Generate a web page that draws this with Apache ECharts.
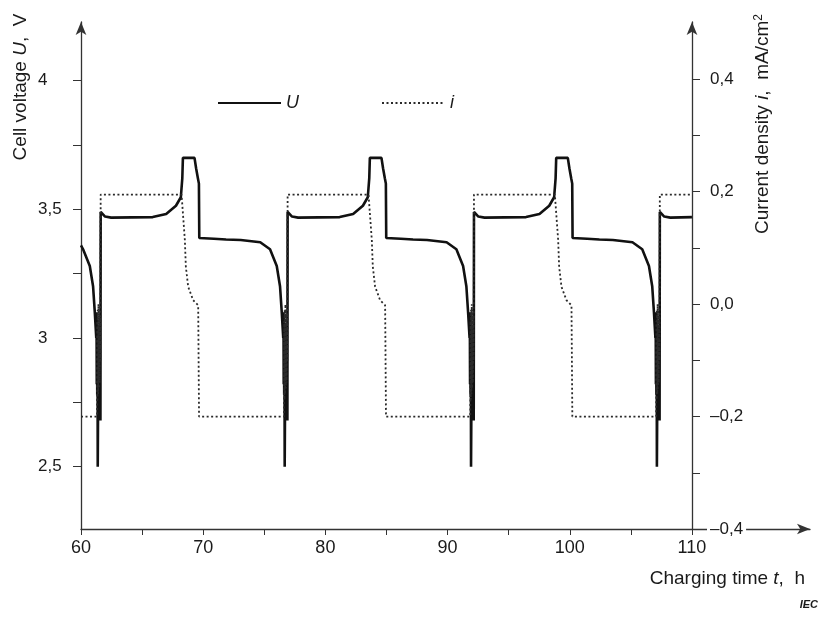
<!DOCTYPE html>
<html>
<head>
<meta charset="utf-8">
<script src="https://cdn.jsdelivr.net/npm/echarts@6/dist/echarts.min.js"></script>
<style>
  html, body { margin: 0; padding: 0; background: #fff; }
  #chart { width: 820px; height: 617px; }
</style>
</head>
<body>
<div id="chart"></div>
<script>
// time (h) and cell voltage U (V)
var uTime = [
    60.0, 60.17, 60.72, 60.99, 61.13, 61.25, 61.27, 61.29, 61.31, 61.33, 61.35, 61.37, 61.40, 61.43, 61.46, 61.49, 61.52, 61.55, 61.59, 61.61,
    61.97, 62.47, 65.87, 66.97, 67.77, 68.17, 68.29, 68.34, 69.29, 69.42, 69.57, 69.65, 69.68, 70.87, 71.87,
    73.07, 74.67, 75.47, 76.02, 76.29, 76.43, 76.55, 76.57, 76.59, 76.61, 76.63, 76.65, 76.67, 76.70, 76.73, 76.76, 76.79, 76.82, 76.85, 76.89, 76.91,
    77.27, 77.77, 81.17, 82.27, 83.07, 83.47, 83.59, 83.64, 84.59, 84.72, 84.87, 84.95, 84.98, 86.17, 87.17,
    88.32, 89.92, 90.72, 91.27, 91.54, 91.68, 91.80, 91.82, 91.84, 91.86, 91.88, 91.90, 91.92, 91.95, 91.98, 92.01, 92.04, 92.07, 92.10, 92.14, 92.16,
    92.52, 93.02, 96.42, 97.52, 98.32, 98.72, 98.84, 98.89, 99.84, 99.97, 100.12, 100.20, 100.23, 101.42, 102.42,
    103.53, 105.13, 105.93, 106.48, 106.75, 106.89, 107.01, 107.03, 107.05, 107.07, 107.09, 107.11, 107.13, 107.16, 107.19, 107.22, 107.25, 107.28, 107.31, 107.35, 107.37,
    107.73, 108.23, 110.0
];
var voltage = [
    3.36, 3.345, 3.28, 3.20, 3.10, 3.00, 3.10, 2.82, 3.08, 2.78, 3.05, 2.50, 2.75, 3.05, 2.72, 3.02, 2.70, 2.95, 2.68, 3.49,
    3.472, 3.468, 3.47, 3.482, 3.514, 3.547, 3.62, 3.70, 3.70, 3.66, 3.62, 3.60, 3.389, 3.386, 3.383,
    3.381, 3.372, 3.345, 3.28, 3.20, 3.10, 3.00, 3.10, 2.82, 3.08, 2.78, 3.05, 2.50, 2.75, 3.05, 2.72, 3.02, 2.70, 2.95, 2.68, 3.49,
    3.472, 3.468, 3.47, 3.482, 3.514, 3.547, 3.62, 3.70, 3.70, 3.66, 3.62, 3.60, 3.389, 3.386, 3.383,
    3.381, 3.372, 3.345, 3.28, 3.20, 3.10, 3.00, 3.10, 2.82, 3.08, 2.78, 3.05, 2.50, 2.75, 3.05, 2.72, 3.02, 2.70, 2.95, 2.68, 3.49,
    3.472, 3.468, 3.47, 3.482, 3.514, 3.547, 3.62, 3.70, 3.70, 3.66, 3.62, 3.60, 3.389, 3.386, 3.383,
    3.381, 3.372, 3.345, 3.28, 3.20, 3.10, 3.00, 3.10, 2.82, 3.08, 2.78, 3.05, 2.50, 2.75, 3.05, 2.72, 3.02, 2.70, 2.95, 2.68, 3.49,
    3.472, 3.468, 3.47
];

// time (h) and current density i (mA/cm2)
var iTime = [
    60.0, 61.31, 61.33, 61.35, 61.37, 61.40, 61.43, 61.46, 61.49, 61.52, 61.56, 61.59, 61.61,
    68.23, 68.36, 68.50, 68.58, 68.77, 69.18, 69.59, 69.66,
    76.61, 76.63, 76.65, 76.67, 76.70, 76.73, 76.76, 76.79, 76.82, 76.86, 76.89, 76.91,
    83.53, 83.66, 83.80, 83.88, 84.07, 84.48, 84.89, 84.96,
    91.86, 91.88, 91.90, 91.92, 91.95, 91.98, 92.01, 92.04, 92.07, 92.11, 92.14, 92.16,
    98.78, 98.91, 99.05, 99.13, 99.32, 99.73, 100.14, 100.21,
    107.07, 107.09, 107.11, 107.13, 107.16, 107.19, 107.22, 107.25, 107.28, 107.32, 107.35, 107.37,
    110.0
];
var current = [
    -0.2, -0.2, -0.03, -0.17, -0.01, -0.16, 0.0, -0.15, -0.01, -0.14, -0.02, -0.1, 0.195,
    0.195, 0.156, 0.114, 0.067, 0.031, 0.007, -0.002, -0.2,
    -0.2, -0.03, -0.17, -0.01, -0.16, 0.0, -0.15, -0.01, -0.14, -0.02, -0.1, 0.195,
    0.195, 0.156, 0.114, 0.067, 0.031, 0.007, -0.002, -0.2,
    -0.2, -0.03, -0.17, -0.01, -0.16, 0.0, -0.15, -0.01, -0.14, -0.02, -0.1, 0.195,
    0.195, 0.156, 0.114, 0.067, 0.031, 0.007, -0.002, -0.2,
    -0.2, -0.03, -0.17, -0.01, -0.16, 0.0, -0.15, -0.01, -0.14, -0.02, -0.1, 0.195,
    0.195
];

// ticks
var xTicks = [60, 65, 70, 75, 80, 85, 90, 95, 100, 105, 110];
var xLabels = [60, 70, 80, 90, 100, 110];
var uTicks = [2.5, 2.75, 3, 3.25, 3.5, 3.75, 4];
var uLabels = [2.5, 3, 3.5, 4];
var iTicks = [-0.4, -0.3, -0.2, -0.1, 0, 0.1, 0.2, 0.3, 0.4];
var iLabels = [-0.4, -0.2, 0, 0.2, 0.4];

function zip(a, b) {
    var out = [];
    for (var k = 0; k < a.length; k++) out.push([a[k], b[k]]);
    return out;
}

var axisColor = '#333';
var textColor = '#1a1a1a';
var font = "'Liberation Sans', Arial, sans-serif";

var chart = echarts.init(document.getElementById('chart'));
var option = {
    animation: false,
    backgroundColor: '#fff',
    grid: { left: 81, right: 10, top: 22, bottom: 88 },
    legend: {
        left: 212,
        top: 89,
        itemWidth: 63,
        itemHeight: 14,
        itemGap: 82,
        data: ['U', 'i'],
        itemStyle: { opacity: 0 },
        textStyle: { fontFamily: font, fontStyle: 'italic', fontSize: 18, color: textColor }
    },
    xAxis: {
        type: 'value',
        min: 60,
        max: 119.66,
        axisLine: { show: true, onZero: false, lineStyle: { color: axisColor, width: 1.3 }, symbol: ['none', 'arrow'], symbolSize: [8, 13] },
        axisTick: { show: true, customValues: xTicks, length: 6, lineStyle: { color: axisColor } },
        axisLabel: { customValues: xLabels, margin: 10, fontFamily: font, fontSize: 18, color: textColor },
        splitLine: { show: false }
    },
    yAxis: [
        {
            type: 'value',
            position: 'left',
            min: 2.258,
            max: 4.228,
            axisLine: { show: true, onZero: false, lineStyle: { color: axisColor, width: 1.3 }, symbol: ['none', 'arrow'], symbolSize: [8, 13] },
            axisTick: { show: true, customValues: uTicks, length: 8, lineStyle: { color: axisColor } },
            axisLabel: {
                customValues: uLabels, margin: 43, align: 'left', fontFamily: font, fontSize: 17, color: textColor,
                formatter: function (v) {
                    return Number.isInteger(v) ? String(v) : v.toFixed(1).replace('.', ',');
                }
            },
            splitLine: { show: false }
        },
        {
            type: 'value',
            position: 'right',
            offset: -118,
            z: 10,
            min: -0.4,
            max: 0.502,
            axisLine: { show: true, onZero: false, lineStyle: { color: axisColor, width: 1.3 }, symbol: ['none', 'arrow'], symbolSize: [8, 13] },
            axisTick: { show: true, customValues: iTicks, length: 8, lineStyle: { color: axisColor } },
            axisLabel: {
                customValues: iLabels, margin: 15, fontFamily: font, fontSize: 17, color: textColor,
                backgroundColor: '#fff', padding: [0, 3],
                formatter: function (v) {
                    return v.toFixed(1).replace('.', ',').replace('-', '\u2013');
                }
            },
            splitLine: { show: false }
        }
    ],
    graphic: [
        {
            type: 'text', x: 21, y: 87, rotation: Math.PI / 2,
            style: {
                text: 'Cell voltage {it|U},  V', align: 'center', verticalAlign: 'middle',
                font: '19px ' + font, fill: textColor,
                rich: { it: { fontStyle: 'italic', fontSize: 19, fontFamily: font, fill: textColor } }
            }
        },
        {
            type: 'text', x: 763, y: 124, rotation: Math.PI / 2,
            style: {
                text: 'Current density {it|i},  mA/cm{sup|2}', align: 'center', verticalAlign: 'middle',
                font: '19px ' + font, fill: textColor,
                rich: {
                    it: { fontStyle: 'italic', fontSize: 19, fontFamily: font, fill: textColor },
                    sup: { fontSize: 12, fontFamily: font, fill: textColor, verticalAlign: 'top', padding: [0, 0, 9, 0] }
                }
            }
        },
        {
            type: 'text', x: 805, y: 579,
            style: {
                text: 'Charging time {it|t},  h', align: 'right', verticalAlign: 'middle',
                font: '19px ' + font, fill: textColor,
                rich: { it: { fontStyle: 'italic', fontSize: 19, fontFamily: font, fill: textColor } }
            }
        },
        {
            type: 'text', x: 818, y: 605,
            style: {
                text: 'IEC', align: 'right', verticalAlign: 'middle',
                font: 'italic bold 11px ' + font, fill: textColor
            }
        }
    ],
    series: [
        {
            name: 'U',
            type: 'line',
            yAxisIndex: 0,
            symbol: 'none',
            data: zip(uTime, voltage),
            lineStyle: { color: '#111', width: 2.6 },
            itemStyle: { color: '#111' }
        },
        {
            name: 'i',
            type: 'line',
            yAxisIndex: 1,
            symbol: 'none',
            data: zip(iTime, current),
            lineStyle: { color: '#2a2a2a', width: 1.8, type: [2, 2.5] },
            itemStyle: { color: '#2a2a2a' }
        }
    ]
};
chart.setOption(option);
</script>
</body>
</html>
